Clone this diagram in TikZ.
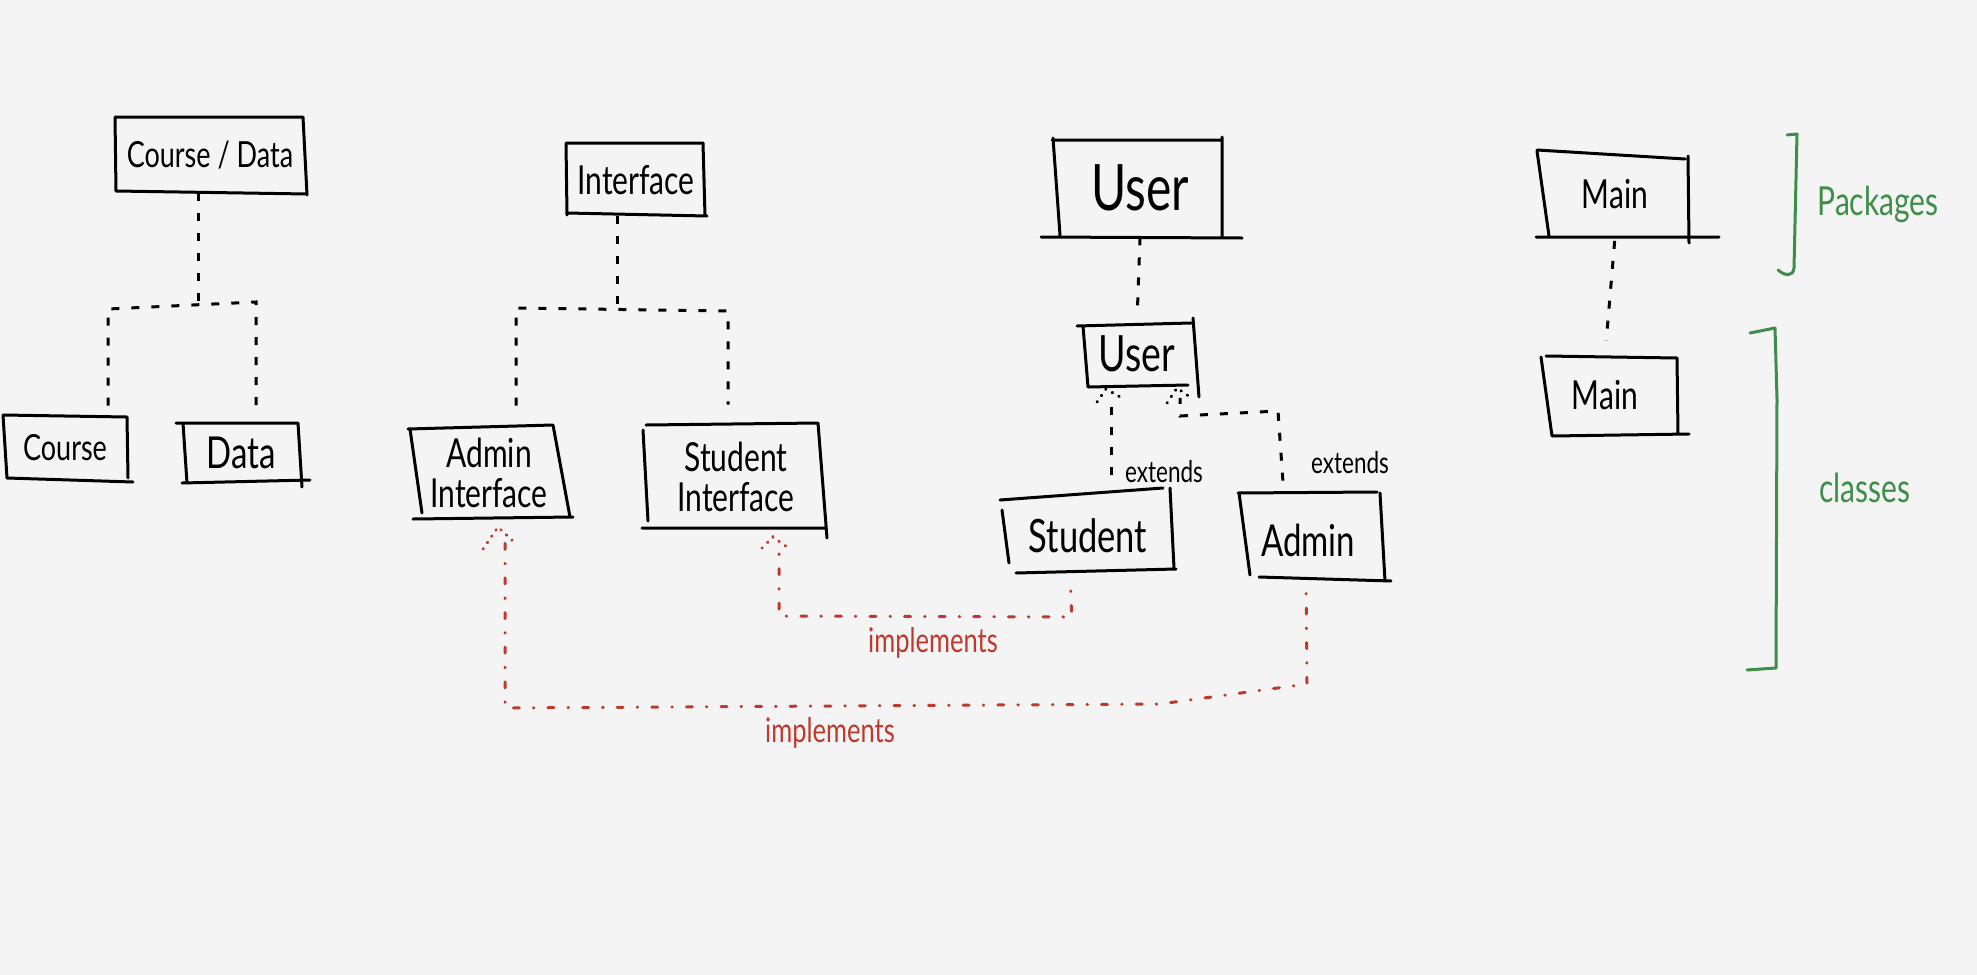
\documentclass[tikz,border=0pt]{standalone}
\usepackage{fontspec}
\setmainfont{Lato}[FakeStretch=0.75]
\usetikzlibrary{calc}
\definecolor{bgc}{HTML}{F4F4F4}
\definecolor{redc}{HTML}{BE3A2C}
\definecolor{greenc}{HTML}{3E8E4A}
\newcommand{\myfs}[1]{\fontsize{#1}{#1}\selectfont}
\begin{document}
\begin{tikzpicture}[x=0.5pt,y=-0.5pt,
  outline/.style={line width=1.5pt, line cap=round},
  box/.style={inner sep=0pt, align=center, font=\myfs{20}},
  conn/.style={line width=1.5pt, dash pattern=on 4pt off 6pt},
  impl/.style={redc, line width=1.5pt, line cap=round, dash pattern=on 0.3pt off 7pt on 3pt off 7pt},
  head/.style={line width=1.5pt, line cap=round, dash pattern=on 0.3pt off 3.5pt},
  lbl/.style={inner sep=0pt, font=\myfs{15}},
  rlbl/.style={inner sep=0pt, text=redc, font=\myfs{17}},
  glbl/.style={inner sep=0pt, text=greenc, font=\myfs{20}},
  bracket/.style={greenc, line width=1.5pt, line cap=round, line join=round}]
\fill[bgc] (0,0) rectangle (1977,975);

% ---------- nodes ----------
\node[box, minimum width=95pt, minimum height=38pt, font=\myfs{18}] (cd) at (210,155) {Course / Data};
\node[box, minimum width=62.5pt, minimum height=32pt, font=\myfs{18}] (course) at (65,448) {Course};
\node[box, minimum width=58.5pt, minimum height=30.5pt, font=\myfs{22}] (data) at (241,453) {Data};
\node[box, minimum width=69.5pt, minimum height=36pt] (iface) at (636,180) {Interface};
\node[box, minimum width=77.5pt, minimum height=45pt] (ai) at (489,473) {Admin\\Interface};
\node[box, minimum width=89pt, minimum height=52pt] (si) at (736,477) {Student\\Interface};
\node[box, minimum width=83.5pt, minimum height=49pt, font=\myfs{32}] (userpkg) at (1140,188) {User};
\node[box, minimum width=55pt, minimum height=31.5pt, font=\myfs{25}] (user) at (1137,354) {User};
\node[box, minimum width=83.5pt, minimum height=38.5pt, font=\myfs{23}] (student) at (1088,536) {Student};
\node[box, minimum width=69.5pt, minimum height=43pt, font=\myfs{22}] (admin) at (1308,540) {Admin};
\node[box, minimum width=72.5pt, minimum height=42.5pt] (mainpkg) at (1615,194) {Main};
\node[box, minimum width=65.5pt, minimum height=39pt] (main) at (1605,395) {Main};

% ---------- hand-drawn box outlines ----------
\draw[outline] (115,117)--(303,117) (115,117)--(116,191) (303,117)--(307,195) (116,191)--(307,194);
\draw[outline] (3,415)--(127,417) (127,417)--(128,478) (3,415)--(7,478) (7,478)--(133,482);
\draw[outline] (176,423)--(298,423) (183,423)--(187,483) (298,423)--(302,487) (182,483)--(310,480);
\draw[outline] (566,143)--(703,143) (566,143)--(567,215) (703,143)--(705,216) (567,213)--(707,216);
\draw[outline] (408,429)--(553,425) (410,429)--(422,513) (553,425)--(570,517) (413,519)--(573,517);
\draw[outline] (646,425)--(818,423) (643,430)--(648,521) (818,423)--(827,538) (642,528)--(825,528);
\draw[outline] (1052,140)--(1222,140) (1053,138)--(1060,235) (1222,137)--(1222,237) (1041,237)--(1242,238);
\draw[outline] (1077,326)--(1191,323) (1083,326)--(1088,387) (1193,318)--(1199,397) (1088,387)--(1188,385);
\draw[outline] (1000,500)--(1163,488) (1002,510)--(1009,563) (1170,488)--(1174,568) (1016,573)--(1176,569);
\draw[outline] (1238,493)--(1377,492) (1239,493)--(1250,575) (1380,493)--(1385,581) (1259,577)--(1391,581);
\draw[outline] (1537,150)--(1685,159) (1537,151)--(1549,236) (1688,156)--(1689,243) (1536,237)--(1719,237);
\draw[outline] (1546,356)--(1677,358) (1541,357)--(1552,436) (1677,358)--(1678,434) (1552,436)--(1689,434);

% ---------- package trees ----------
\coordinate (cdj) at (198,305);
\coordinate (cdL) at (108,309);
\coordinate (cdR) at (256,302);
\draw[conn] (cd.south -| cdj) -- (cdj);
\draw[conn, shorten <=5pt, shorten >=6pt] (course.north -| cdL) -- (cdL) -- (cdR) -- (data.north -| cdR);

\coordinate (ij) at (617,308);
\coordinate (iL) at (516,308);
\coordinate (iR) at (728,311);
\draw[conn] (iface.south -| ij) -- (ij);
\draw[conn, shorten <=11pt, shorten >=10pt] (ai.north -| iL) -- (iL) -- (iR) -- (si.north -| iR);

\draw[conn, shorten >=3pt] (userpkg.south) -- (user.north);
\draw[conn, shorten <=2pt, shorten >=7.5pt] (mainpkg.south) -- (main.north);

% ---------- extends ----------
\coordinate (ex1) at (1111,0);
\draw[conn, shorten <=11pt, shorten >=8pt] (student.north -| ex1) -- (user.south -| ex1);
\coordinate (t3) at (1106,389);
\draw[head] ($(t3)+(-9,13)$) -- (t3) -- ($(t3)+(16,9)$);
\node[lbl] (ext1) at (1164,472) {extends};

\coordinate (ae1) at (1278,411);
\coordinate (ae2) at (1180,416);
\draw[conn, shorten <=8pt, shorten >=6pt] ($(admin.north)+(-24,0)$) -- (ae1) -- (ae2) -- (user.south -| ae2);
\coordinate (t4) at (1177,388);
\draw[head] ($(t4)+(-10,15)$) -- (t4) -- ($(t4)+(13,9)$);
\node[lbl] (ext2) at (1350,463) {extends};

% ---------- implements ----------
\coordinate (sc1) at (1072,617);
\coordinate (sc2) at (779,616);
\draw[impl, shorten <=8pt, shorten >=12pt] ($(student.south)+(-18,0)$) -- (sc1) -- (sc2) -- (si.south -| sc2);
\coordinate (t2) at (773,537);
\draw[head, redc] ($(t2)+(-11,11)$) -- (t2) -- ($(t2)+(17,12)$);
\node[rlbl] (imp1) at (933,643) {implements};

\coordinate (ac1) at (1307,684);
\coordinate (ac3) at (1160,704);
\coordinate (ac2) at (505,708);
\draw[impl, shorten <=5pt, shorten >=10pt] ($(admin.south)+(-2,0)$) -- (ac1) -- (ac3) -- (ac2) -- (ai.south -| ac2);
\coordinate (t1) at (498,527);
\draw[head, redc] ($(t1)+(-15,22)$) -- (t1) -- ($(t1)+(17,16)$);
\node[rlbl] (imp2) at (830,733) {implements};

% ---------- legend brackets ----------
\draw[bracket] (1787,135) -- (1797,134) -- (1794,268) .. controls (1793,277) and (1785,276) .. (1778,270);
\node[glbl] (pk) at (1878,204) {Packages};
\draw[bracket] (1750,333) -- (1775,328) -- (1777,399) -- (1776,668) -- (1747,670);
\node[glbl] (cl) at (1865,488) {classes};
\end{tikzpicture}
\end{document}
